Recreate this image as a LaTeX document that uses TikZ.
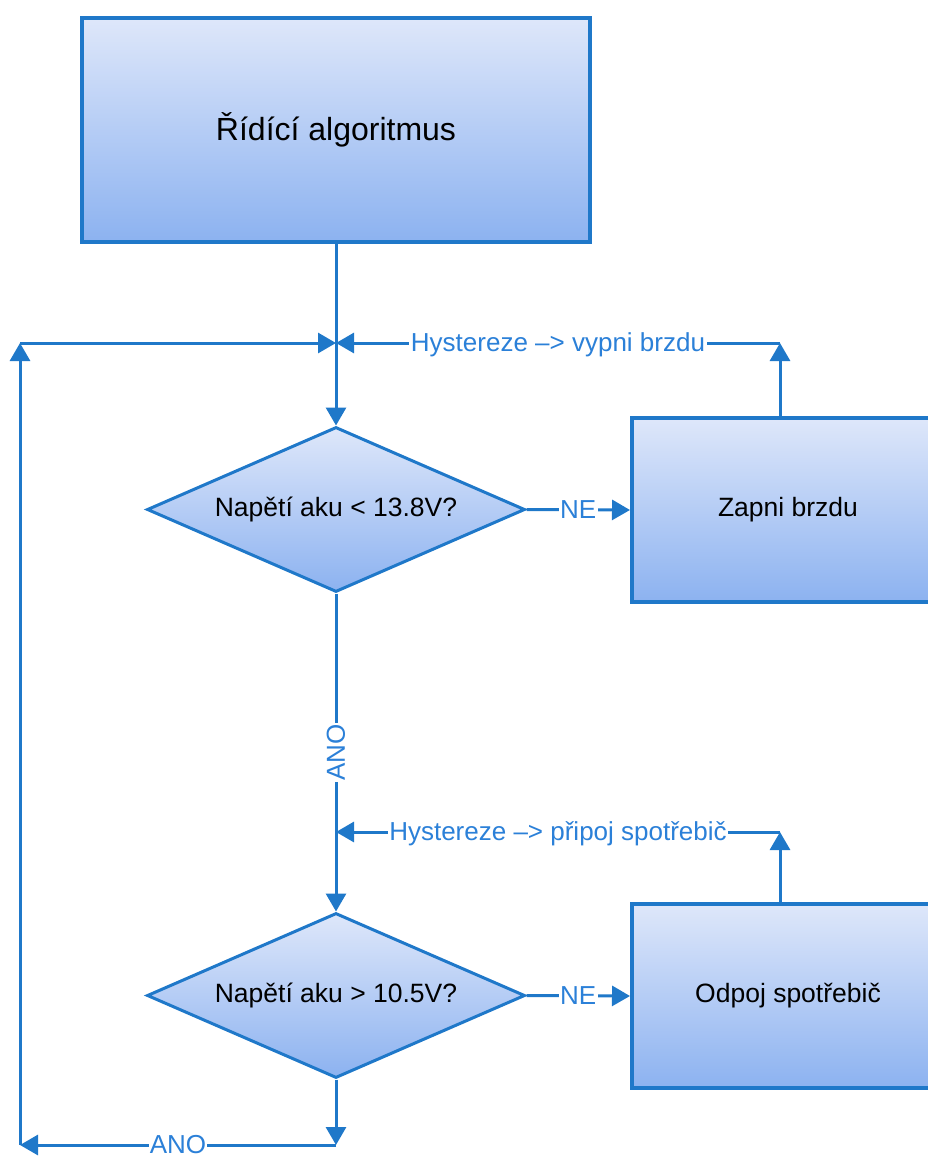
\documentclass[tikz,border=0pt]{standalone}
\usepackage{fontspec}
\setmainfont{Liberation Sans}
\usetikzlibrary{shapes.geometric,arrows.meta}

\definecolor{edgeblue}{HTML}{1F78C9}
\definecolor{labelblue}{HTML}{2B80D8}
\definecolor{filltop}{HTML}{DEE7FA}
\definecolor{fillbot}{HTML}{8CB2F0}

\tikzset{
  block/.style={rectangle, draw=edgeblue, line width=4pt,
    top color=filltop, bottom color=fillbot, inner sep=0pt,
    font=\fontsize{26.5}{30}\selectfont},
  decision/.style={diamond, draw=edgeblue, line width=3pt,
    top color=filltop, bottom color=fillbot, inner sep=0pt,
    aspect=2.29, minimum width=378pt, minimum height=165pt,
    font=\fontsize{26.5}{30}\selectfont},
  conn/.style={draw=edgeblue, line width=3pt,
    -{Triangle[length=18pt,width=20pt]}},
  lbl/.style={fill=white, text=labelblue, inner sep=1.5pt,
    font=\fontsize{26}{30}\selectfont},
}

\begin{document}
\begin{tikzpicture}[x=1pt,y=-1pt]
  \useasboundingbox (0,0) rectangle (928,1156);
  \clip (0,0) rectangle (928,1156);

  % blocks and decisions
  \node[block, minimum width=508pt, minimum height=224pt,
        font=\fontsize{32}{36}\selectfont] (title) at (336,130) {Řídící algoritmus};
  \node[decision] (d1) at (336,509.5) {Napětí aku < 13.8V?};
  \node[decision] (d2) at (336,995.5) {Napětí aku > 10.5V?};
  \node[block, minimum width=312pt, minimum height=184pt] (zap) at (788,510) {Zapni brzdu};
  \node[block, minimum width=312pt, minimum height=184pt] (odp) at (788,996) {Odpoj spotřebič};

  % junctions and corners
  \coordinate (j1) at (336,343);
  \coordinate (k1) at (780,343);
  \coordinate (j2) at (336,832);
  \coordinate (k2) at (780,832);
  \coordinate (b)  at (336,1145);
  \coordinate (lb) at (20,1145);
  \coordinate (lt) at (20,343);

  % main flow
  \draw[conn] (title) -- (d1);
  \draw[conn] (d1) -- node[lbl, rotate=90] {ANO} (d2);
  \draw[conn] (d1.east) -- node[lbl] {NE} (zap.west);
  \draw[conn] (d2.east) -- node[lbl] {NE} (odp.west);

  % hysteresis returns
  \draw[conn] (zap.north -| k1) -- (k1);
  \draw[conn] (k1) -- node[lbl, yshift=-1.5pt] {Hystereze –> vypni brzdu} (j1);
  \draw[conn] (odp.north -| k2) -- (k2);
  \draw[conn] (k2) -- node[lbl, yshift=-1.5pt] {Hystereze –> připoj spotřebič} (j2);

  % loop back to the top
  \draw[conn] (d2) -- (b);
  \draw[conn] (b) -- node[lbl, inner sep=0.5pt] {ANO} (lb);
  \draw[conn] (lb) -- (lt);
  \draw[conn] (lt) -- (j1);
\end{tikzpicture}
\end{document}
